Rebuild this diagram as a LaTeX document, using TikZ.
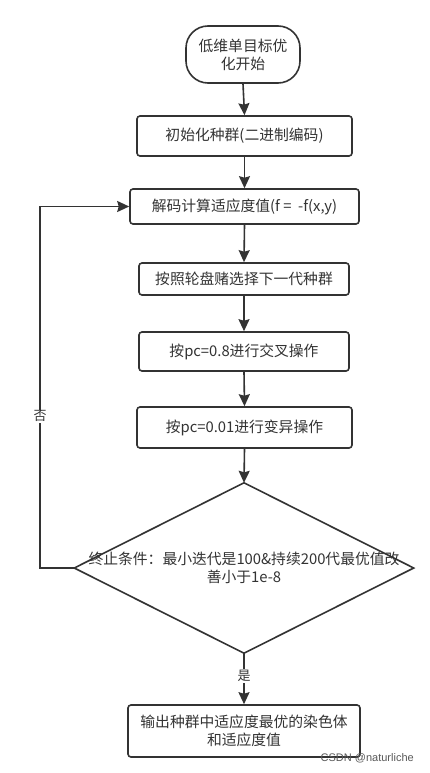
\documentclass[tikz,border=0pt]{standalone}
\usepackage{fontspec}
\setmainfont{Noto Sans CJK SC}
\newfontfamily\wmfont{Liberation Sans}
\usetikzlibrary{arrows.meta}
\definecolor{ink}{HTML}{333333}
\begin{document}
\begin{tikzpicture}[x=1pt,y=-1pt,
  every node/.style={text=ink,font=\fontsize{14.8}{18}\selectfont},
  procbox/.style={draw=ink,line width=1.6pt,rounded corners=3pt,inner sep=0pt,align=center},
  flow/.style={draw=ink,line width=1.6pt,-{Stealth[length=12pt,width=11pt,inset=1.5pt]}},
  lbl/.style={fill=white,inner sep=1pt,font=\fontsize{13}{14}\selectfont}]
\useasboundingbox (0,0) rectangle (430,773);
\fill[white] (0,0) rectangle (430,773);
\node[procbox,rounded corners=22pt,minimum width=114pt,minimum height=57pt] (start) at (243,54.5) {低维单目标优\\化开始};
\node[procbox,minimum width=215pt,minimum height=40pt] (init) at (244.5,136) {初始化种群(二进制编码)};
\node[procbox,minimum width=229pt,minimum height=35pt] (decode) at (244.5,206.5) {解码计算适应度值(f = \ -f(x,y)};
\node[procbox,minimum width=210pt,minimum height=32pt] (select) at (244,279) {按照轮盘赌选择下一代种群};
\node[procbox,minimum width=210pt,minimum height=39pt] (cross) at (244,351.5) {按pc=0.8进行交叉操作};
\node[procbox,minimum width=215pt,minimum height=41pt] (mutate) at (244.5,427.5) {按pc=0.01进行变异操作};
\node[minimum width=339pt,minimum height=170pt,inner sep=0pt,align=center,text width=336pt] (cond) at (244,568) {终止条件：最小迭代是100\&持续200代最优值改\\善小于1e-8};
\draw[ink,line width=1.6pt] (cond.north) -- (cond.east) -- (cond.south) -- (cond.west) -- cycle;
\node[procbox,minimum width=232pt,minimum height=52pt] (out) at (244,731) {输出种群中适应度最优的染色体\\和适应度值};
\coordinate (lb) at (40,568);
\coordinate (lt) at (40,206.5);
\draw[flow] (start.south) -- (init.north);
\draw[flow] (init.south) -- (decode.north);
\draw[flow] (decode.south) -- (select.north);
\draw[flow] (select.south) -- (cross.north);
\draw[flow] (cross.south) -- (mutate.north);
\draw[flow] (mutate.south) -- (cond.north);
\draw[flow] (cond.south) -- node[lbl,pos=0.45] {是} (out.north);
\draw[flow] (cond.west) -- (lb) -- node[lbl,pos=0.42] {否} (lt) -- (decode.west);
\node[anchor=base east,text=gray!70!black,font=\wmfont\fontsize{11}{12}\selectfont,inner sep=0pt] (wm) at (414,761) {CSDN @naturliche};
\end{tikzpicture}
\end{document}
